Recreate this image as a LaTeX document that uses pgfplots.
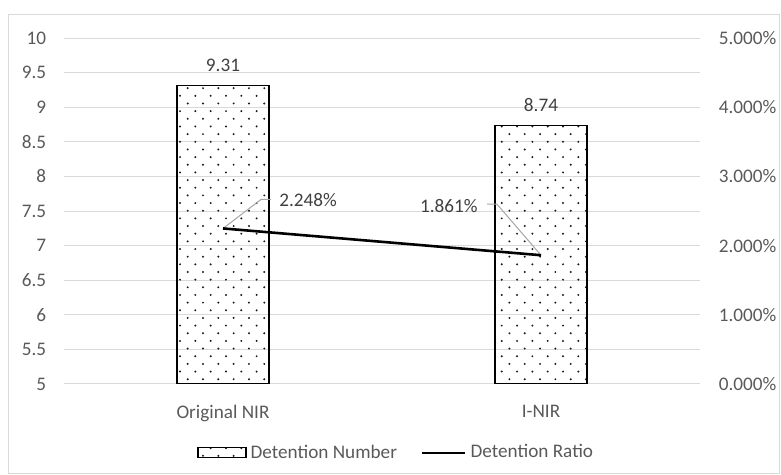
\documentclass[border=0pt]{standalone}
\usepackage{fontspec}
\setmainfont{Carlito}
\usepackage{pgfplots}
\pgfplotsset{compat=1.18}
\usetikzlibrary{patterns}

\definecolor{txt}{HTML}{595959}
\definecolor{lbl}{HTML}{404040}
\definecolor{grd}{HTML}{D9D9D9}
\definecolor{lead}{HTML}{A6A6A6}

% staggered dot fill like Excel's 5% pattern
\pgfdeclarepatternformonly{exceldots}{\pgfpoint{-1pt}{-1pt}}{\pgfpoint{8.66pt}{8.66pt}}{\pgfpoint{7.66pt}{7.66pt}}{
  \pgfpathcircle{\pgfpoint{1.92pt}{1.92pt}}{0.55pt}
  \pgfpathcircle{\pgfpoint{5.75pt}{5.75pt}}{0.55pt}
  \pgfusepath{fill}
}

\newcommand{\chartfont}{\fontsize{9.6}{11}\selectfont}

\pgfplotstableread{
x num
0 9.31
1 8.74
}\numdata

\pgfplotstableread{
x ratio
0 2.248
1 1.861
}\ratiodata

\pgfplotsset{
  base/.style={
    at={(32pt,-192pt)}, anchor=south west,
    width=318pt, height=173pt, scale only axis,
    xmin=-0.5, xmax=1.5,
    axis line style={draw=none},
    major tick length=0pt,
    ticklabel style={font=\chartfont, text=txt},
    /pgf/number format/assume math mode=true,
  },
  barlegend/.style={legend image code/.code={\draw[##1] (0pt,-2.5pt) rectangle (24pt,2.5pt);}},
  linelegend/.style={legend image code/.code={\draw[##1] (0pt,0pt) -- (21.5pt,0pt);}},
  barstyle/.style={draw=black, line width=0.6pt, pattern=exceldots, pattern color=black!90},
}

\begin{document}
\begin{tikzpicture}
\useasboundingbox (0,0) rectangle (390.5pt,-237.5pt);
\draw[grd, line width=0.5pt] (4.2pt,-7.5pt) rectangle (389.5pt,-236.8pt);

\begin{axis}[
  base,
  ymin=5, ymax=10, ytick distance=0.5,
  ymajorgrids, grid style={grd, line width=0.5pt},
  xtick={0,1}, xticklabels={Original NIR, I-NIR},
  xticklabel style={yshift=-7pt},
  yticklabel style={xshift=-5.4pt},
  ybar, bar width=46pt,
  nodes near coords,
  nodes near coords style={font=\chartfont, text=lbl, yshift=3.3pt},
]
\addplot[barstyle] table[x=x, y=num] {\numdata};
\end{axis}

\begin{axis}[
  base,
  ymin=0, ymax=5, ytick distance=1,
  axis y line=right, hide x axis,
  yticklabel={\pgfmathprintnumber[fixed,fixed zerofill,precision=3]{\tick}\%},
  yticklabel style={xshift=5.9pt},
  legend columns=2,
  legend style={draw=none, fill=none, font=\chartfont, text=txt,
    at={(0.524,-0.199)}, anchor=center,
    /tikz/every even column/.append style={column sep=10pt}},
]
\addlegendimage{barstyle, barlegend}
\addlegendentry{Detention Number}

\draw[lead, line width=0.5pt] (axis cs:0,2.248) -- ++(19pt,14.5pt) -- ++(5pt,0pt);
\draw[lead, line width=0.5pt] (axis cs:1,1.861) -- ++(-22pt,25.5pt) -- ++(-5pt,0pt);

\addplot[black, line width=1.3pt, mark=none, linelegend]
  table[x=x, y=ratio] {\ratiodata};
\addlegendentry{Detention Ratio}

\node[anchor=west, inner sep=0pt, font=\chartfont, text=lbl]
  at ([shift={(28pt,14pt)}]axis cs:0,2.248) {2.248\%};
\node[anchor=east, inner sep=0pt, font=\chartfont, text=lbl]
  at ([shift={(-31.5pt,24.5pt)}]axis cs:1,1.861) {1.861\%};
\end{axis}
\end{tikzpicture}
\end{document}
